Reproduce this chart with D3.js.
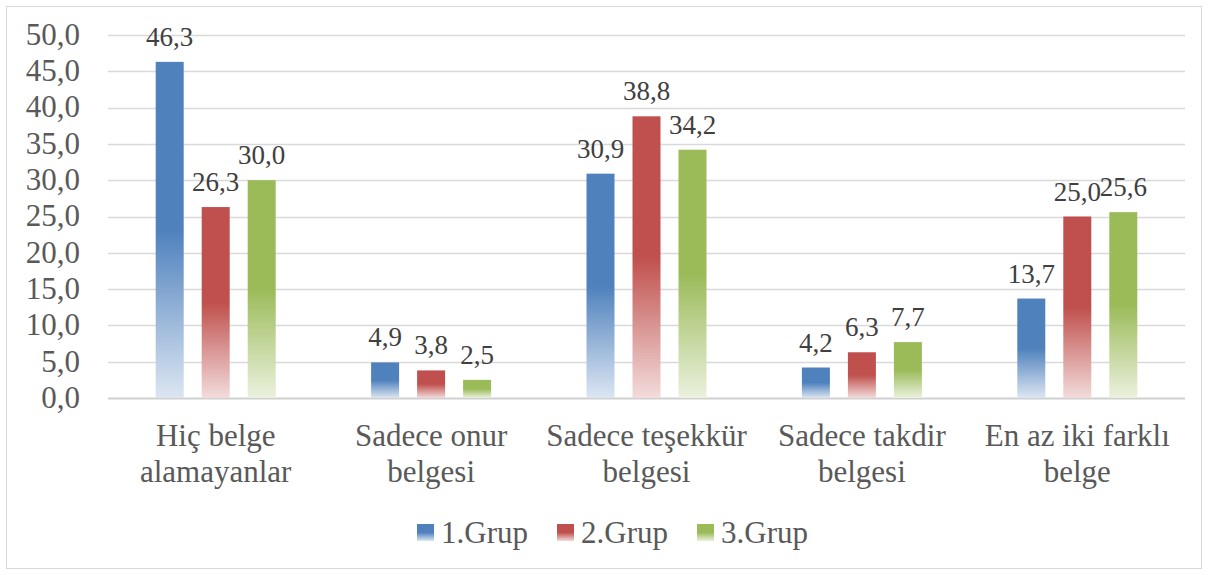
<!DOCTYPE html>
<html>
<head>
<meta charset="utf-8">
<script src="https://cdn.jsdelivr.net/npm/d3@7"></script>
<style>
  body { margin: 0; background: #fff; }
  svg text { font-family: "Liberation Serif", "Times New Roman", serif; }
</style>
</head>
<body>
<div id="chart"></div>
<script>
// data
var categories = [["Hiç belge", "alamayanlar"], ["Sadece onur", "belgesi"], ["Sadece teşekkür", "belgesi"], ["Sadece takdir", "belgesi"], ["En az iki farklı", "belge"]];
var seriesNames = ["1.Grup", "2.Grup", "3.Grup"];
var grup1 = [46.3, 4.9, 30.9, 4.2, 13.7];
var grup2 = [26.3, 3.8, 38.8, 6.3, 25.0];
var grup3 = [30.0, 2.5, 34.2, 7.7, 25.6];
var yTicks = [0, 5, 10, 15, 20, 25, 30, 35, 40, 45, 50];

var colors = ["#4f81bd", "#c0504d", "#9bbb59"];
var lights = ["#dce6f2", "#f2dcdb", "#ebf1de"];

var width = 1208, height = 575;
var margin = {left: 108, right: 23, top: 35, bottom: 177};
var serif = "Liberation Serif, Times New Roman, serif";

var svg = d3.select("#chart").append("svg")
    .attr("width", width)
    .attr("height", height);

// gradients, solid on top half fading toward bottom
var defs = svg.append("defs");
colors.forEach(function(c, i) {
  var grad = defs.append("linearGradient")
      .attr("id", "grad" + i)
      .attr("x1", 0).attr("y1", 0).attr("x2", 0).attr("y2", 1);
  grad.append("stop").attr("offset", "0%").attr("stop-color", c);
  grad.append("stop").attr("offset", "50%").attr("stop-color", c);
  grad.append("stop").attr("offset", "100%").attr("stop-color", lights[i]);
});

svg.append("rect")
    .attr("x", 6.5).attr("y", 6.5)
    .attr("width", width - 13).attr("height", height - 13)
    .attr("fill", "#fff")
    .attr("stroke", "#d9d9d9");

var x0 = d3.scaleBand()
    .domain(d3.range(categories.length))
    .range([margin.left, width - margin.right]);

var y = d3.scaleLinear()
    .domain([0, 50])
    .range([height - margin.bottom, margin.top]);

var barW = 28, step = 46;
var fmt = function(d) { return d3.format(".1f")(d).replace(".", ","); };

// gridlines
svg.append("g").selectAll("line")
    .data(yTicks)
  .enter().append("line")
    .attr("x1", margin.left).attr("x2", width - margin.right)
    .attr("y1", function(d) { return Math.round(y(d)) + 0.5; })
    .attr("y2", function(d) { return Math.round(y(d)) + 0.5; })
    .attr("stroke", function(d) { return d === 0 ? "#d0d0d0" : "#d9d9d9"; })
    .attr("stroke-width", function(d) { return d === 0 ? 2 : 1.3; });

// y axis labels
var yAxis = d3.axisLeft(y)
    .tickValues(yTicks)
    .tickSize(0)
    .tickPadding(0)
    .tickFormat(fmt);

var ya = svg.append("g")
    .attr("transform", "translate(80,0)")
    .call(yAxis)
    .attr("font-family", serif)
    .attr("font-size", 31);
ya.select(".domain").remove();
ya.selectAll("text")
    .attr("fill", "#595959")
    .attr("dy", "0.3em");

var series = [grup1, grup2, grup3];

series.forEach(function(vals, si) {
  var g = svg.append("g");
  g.selectAll("rect")
      .data(vals)
    .enter().append("rect")
      .attr("x", function(d, i) { return x0(i) + x0.bandwidth() / 2 + (si - 1) * step - barW / 2; })
      .attr("y", function(d) { return y(d); })
      .attr("width", barW)
      .attr("height", function(d) { return y(0) - y(d); })
      .attr("fill", "url(#grad" + si + ")");

  g.selectAll("text")
      .data(vals)
    .enter().append("text")
      .attr("x", function(d, i) { return x0(i) + x0.bandwidth() / 2 + (si - 1) * step; })
      .attr("y", function(d) { return y(d) - 16; })
      .attr("text-anchor", "middle")
      .attr("font-family", serif)
      .attr("font-size", 27)
      .attr("fill", "#404040")
      .text(fmt);
});

// category labels
var cat = svg.append("g").selectAll("text")
    .data(categories)
  .enter().append("text")
    .attr("text-anchor", "middle")
    .attr("font-family", serif)
    .attr("font-size", 31)
    .attr("fill", "#595959");
cat.each(function(d, i) {
  var t = d3.select(this);
  d.forEach(function(line, li) {
    t.append("tspan")
        .attr("x", x0(i) + x0.bandwidth() / 2)
        .attr("y", 446 + li * 36)
        .text(line);
  });
});

// legend
var legendX = [417, 557, 697];
var lg = svg.append("g").selectAll("g")
    .data(seriesNames)
  .enter().append("g")
    .attr("transform", function(d, i) { return "translate(" + legendX[i] + ",524)"; });
lg.append("rect")
    .attr("width", 17).attr("height", 17)
    .attr("fill", function(d, i) { return "url(#grad" + i + ")"; });
lg.append("text")
    .attr("x", 24).attr("y", 19)
    .attr("font-family", serif)
    .attr("font-size", 31)
    .attr("fill", "#595959")
    .text(function(d) { return d; });
</script>
</body>
</html>
